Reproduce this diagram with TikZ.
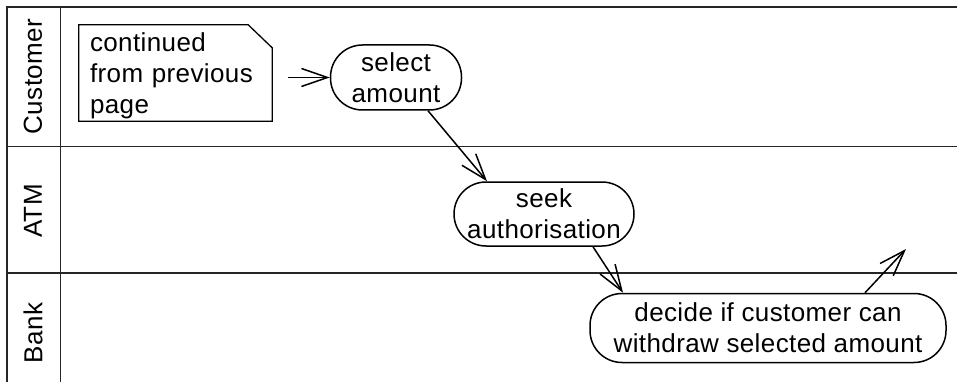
\documentclass[tikz,border=0pt]{standalone}
\usepackage{fontspec}
\setmainfont[LetterSpace=1.5]{Liberation Sans}
\usetikzlibrary{arrows.meta,calc}
\begin{document}
\begin{tikzpicture}[x=1pt,y=-1pt,
  lane/.style={line width=1.3pt, draw=black!85},
  txt/.style={font=\fontsize{26}{31}\selectfont},
  activity/.style={txt, draw, line width=1.5pt, rounded corners=32pt,
    align=center, inner sep=0pt},
  flow/.style={line width=1.5pt,
    -{Straight Barb[length=26pt,width=18pt,line width=1.5pt]}},
  lanelabel/.style={txt, rotate=90, inner sep=0pt},
  notebox/.style={inner sep=0pt, minimum width=193pt, minimum height=96pt},
  notetext/.style={txt, inner sep=0pt, text width=171pt, align=left}
]
\useasboundingbox (0,0) rectangle (957,382);

% swimlane frame
\draw[lane] (957,7) -- (7,7) -- (7,382);
\draw[lane] (60.7,7) -- (60.7,382);
\draw[lane] (7,146.5) -- (957,146.5);
\draw[lane] (7,273) -- (957,273);

% lane titles
\node[lanelabel] (lcust) at (33,76.5) {Customer};
\node[lanelabel] (latm)  at (33,211) {ATM};
\node[lanelabel] (lbank) at (33,333) {Bank};

% note with folded corner
\node[notebox] (note) at (175.5,73) {};
\node[notetext] (notetxt) at ([yshift=-3pt]note.center) {continued\\from previous\\page};
\draw[line width=1.3pt]
  (note.north west) -- ($(note.north east)+(-24,0)$) -- ($(note.north east)+(0,23)$)
  -- (note.south east) -- (note.south west) -- cycle;

% activities
\node[activity, minimum width=131pt, minimum height=65pt] (sel) at (396,77.5)
  {select\\amount};
\node[activity, minimum width=180pt, minimum height=64pt] (seek) at (544,214)
  {seek\\authorisation};
\node[activity, minimum width=356pt, minimum height=69pt] (dec) at (768,328)
  {decide if customer can\\withdraw selected amount};
\coordinate (out) at (906,249);

% control flow
\draw[flow] ([xshift=16pt]note.east |- sel.west) -- (sel.west);
\draw[flow] ([xshift=32pt]sel.south) -- ([xshift=-57pt]seek.north);
\draw[flow] ([xshift=49pt]seek.south) -- ([xshift=-145pt]dec.north);
\draw[flow] ([xshift=97pt]dec.north) -- (out);
\end{tikzpicture}
\end{document}
